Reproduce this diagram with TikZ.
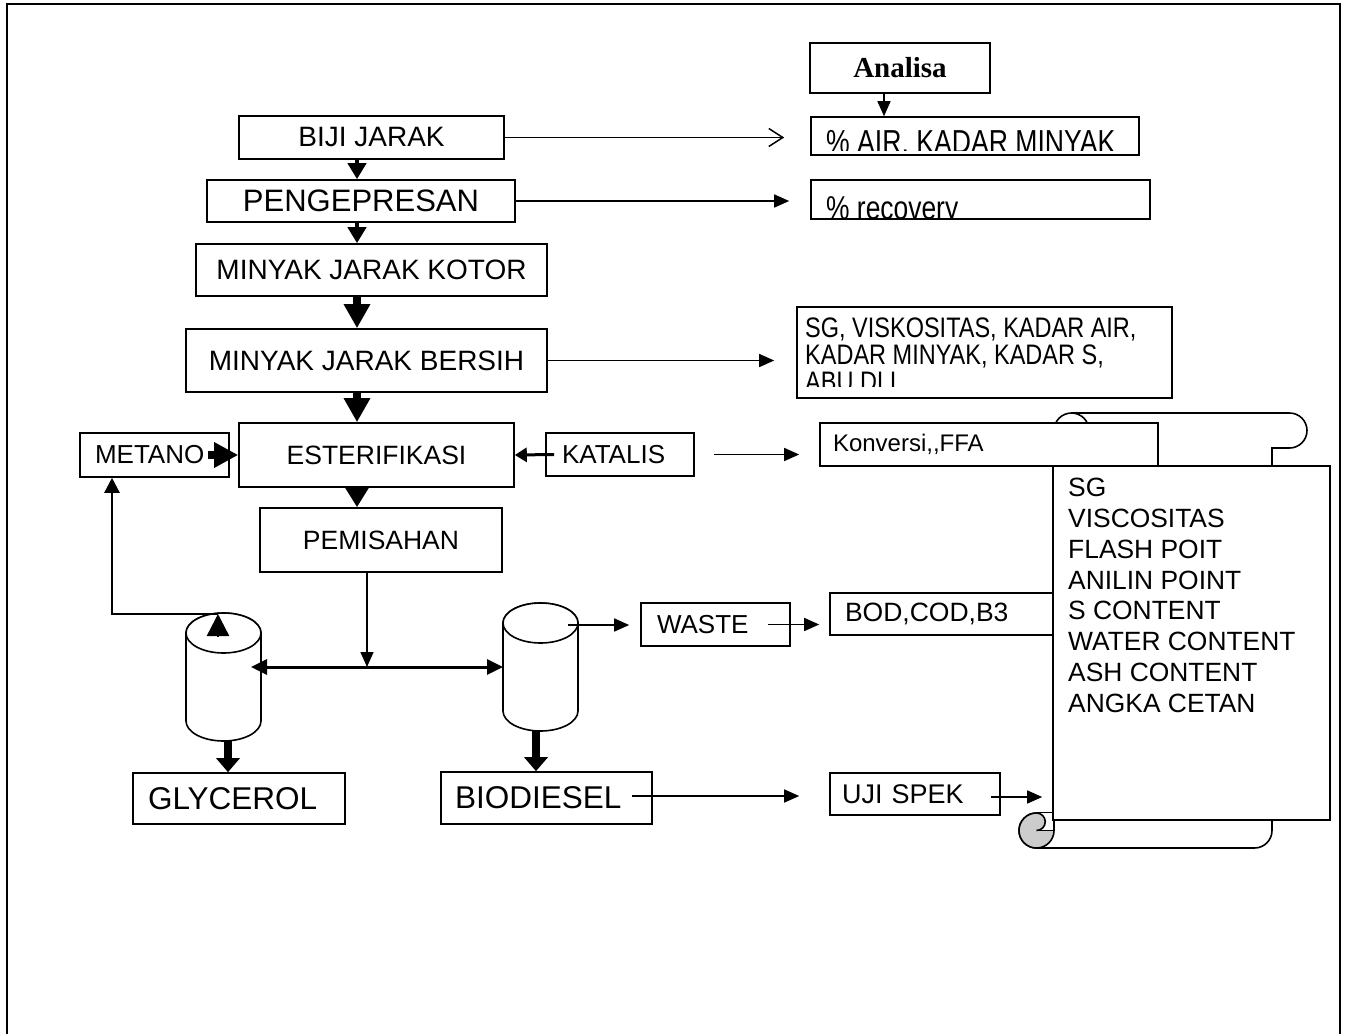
\documentclass[tikz,border=0pt]{standalone}
\usepackage{fontspec}
\setmainfont{Liberation Sans}
\newfontfamily\headserif{Liberation Serif}
\usetikzlibrary{arrows.meta}
\newcommand{\fsz}[2]{\fontsize{#1}{#2}\selectfont}

\begin{document}
\begin{tikzpicture}[x=1pt,y=-1pt,
  box/.style={draw, line width=1.6pt, fill=white, rectangle, inner sep=0pt},
  lbox/.style={box, align=left},
  flow/.style={line width=1.5pt, -{Triangle[length=15pt,width=13pt]}},
  barb/.style={line width=1.5pt, -{Straight Barb[length=14pt,width=18pt]}},
  midarrow/.style={line width=4pt, -{Triangle[length=16pt,width=18pt]}},
  bigarrow/.style={line width=8pt, -{Triangle[length=24pt,width=25pt]}},
  tankarrow/.style={line width=8pt, -{Triangle[length=14pt,width=23pt]}},
  pipe/.style={line width=3pt, -{Triangle[length=16pt,width=15pt]}},
  tank/.style={line width=1.6pt, fill=white},
  scrollline/.style={line width=1.6pt},
]
\useasboundingbox (0,0) rectangle (1347,1034);

% page frame, open at the bottom
\draw[line width=2.5pt] (7,1034) -- (7,4) -- (1340,4) -- (1340,1034);

% analysis header and result boxes
\node[box, minimum width=180pt, minimum height=50pt, font=\headserif\bfseries\fsz{29}{32}] (analisa) at (900,68) {Analisa};

\node[box, minimum width=328pt, minimum height=38pt] (air) at (975,136) {};
\begin{scope}
  \clip (813,119) rectangle (1137,150);
  \node[anchor=base west, inner sep=0pt, font=\fsz{26.6}{31}] (airtxt) at (826,153)
    {\scalebox{1}[1.25]{\% AIR. KADAR MINYAK}};
\end{scope}

\node[box, minimum width=339pt, minimum height=39pt] (rec) at (980.5,199.5) {};
\begin{scope}
  \clip (813,182) rectangle (1148,217);
  \node[anchor=base west, inner sep=0pt, font=\fsz{26.4}{31}] (rectxt) at (826,219)
    {\scalebox{1}[1.25]{\% recovery}};
\end{scope}

% main process column
\node[box, minimum width=265pt, minimum height=43pt, font=\fsz{28}{32}] (biji) at (371.5,137.5) {BIJI JARAK};
\node[box, minimum width=308pt, minimum height=42pt, font=\fsz{31}{36}] (peng) at (361,201) {PENGEPRESAN};
\node[box, minimum width=351pt, minimum height=52pt, font=\fsz{28}{32}] (kotor) at (371.5,270) {MINYAK JARAK KOTOR};
\node[box, minimum width=361pt, minimum height=63pt, font=\fsz{28}{32}] (bersih) at (366.5,360.5) {MINYAK JARAK BERSIH};

\node[box, minimum width=375pt, minimum height=91pt] (sgbox) at (984.5,352.5) {};
\begin{scope}
  \clip (799,309) rectangle (1170,386);
  \node[anchor=north west, inner sep=0pt, align=left, font=\fsz{23.5}{27}] (sgtxt) at (805,318)
    {\scalebox{1}[1.2]{SG, VISKOSITAS, KADAR AIR,}\\\scalebox{1}[1.2]{KADAR MINYAK, KADAR S,}\\\scalebox{1}[1.2]{ABU DLL}};
\end{scope}

\node[box, minimum width=275pt, minimum height=64pt, font=\fsz{26.5}{31}] (ester) at (376.5,455) {ESTERIFIKASI};
\node[lbox, minimum width=149pt, minimum height=44pt, text width=119pt, inner xsep=15pt, font=\fsz{26}{30}] (metano) at (154.5,455) {METANO};
\node[lbox, minimum width=148pt, minimum height=43pt, text width=116pt, inner xsep=16pt, font=\fsz{26}{30}] (katalis) at (620,454.5) {KATALIS};
\node[box, minimum width=242pt, minimum height=64pt, font=\fsz{26.5}{31}] (pemis) at (381,540) {PEMISAHAN};

\node[lbox, minimum width=212pt, minimum height=51pt, text width=182pt, inner xsep=15pt, font=\fsz{31.5}{36}] (glyc) at (239,798.5) {GLYCEROL};
\node[lbox, minimum width=211pt, minimum height=52pt, text width=183pt, inner xsep=14pt, font=\fsz{31.5}{36}] (bio) at (546.5,798) {BIODIESEL};
\node[lbox, minimum width=149pt, minimum height=43pt, text width=117pt, inner xsep=16pt, font=\fsz{26}{30}] (waste) at (715.5,624.5) {WASTE};
\node[lbox, minimum width=260pt, minimum height=42pt, text width=230pt, inner xsep=15pt, font=\fsz{26.5}{31}] (bod) at (960,614) {BOD,COD,B3};
\node[lbox, minimum width=170pt, minimum height=42pt, text width=146pt, inner xsep=12pt, font=\fsz{27}{31}] (uji) at (915,794) {UJI SPEK};

% settling tanks
\filldraw[tank] (186,633) -- (186,721) arc[start angle=180,end angle=0,x radius=37.5,y radius=20]
  -- (261,633) arc[start angle=0,end angle=-180,x radius=37.5,y radius=20] -- cycle;
\draw[tank] (223.5,633) ellipse[x radius=37.5,y radius=20];
\filldraw[tank] (503,623) -- (503,711) arc[start angle=180,end angle=0,x radius=37.5,y radius=20]
  -- (578,623) arc[start angle=0,end angle=-180,x radius=37.5,y radius=20] -- cycle;
\draw[tank] (540.5,623) ellipse[x radius=37.5,y radius=20];

% connector anchor points
\coordinate (spine) at (357,0);
\coordinate (split) at (367,667);
\coordinate (lcylin) at (251,667);
\coordinate (rcylin) at (503,667);
\coordinate (lcylvent) at (218,637);
\coordinate (lcyltop) at (218,614);
\coordinate (ret) at (112,614);
\coordinate (lcylbot) at (228,741);
\coordinate (rcylbot) at (536,731);
\coordinate (rcyltop) at (568,625);

% main flow
\draw[midarrow] (biji.south -| spine) -- (peng.north -| spine);
\draw[midarrow] (peng.south -| spine) -- (kotor.north -| spine);
\draw[bigarrow] (kotor.south -| spine) -- (bersih.north -| spine);
\draw[bigarrow] (bersih.south -| spine) -- (ester.north -| spine);
\draw[line width=6pt, -{Triangle[length=20pt,width=23pt]}] (ester.south -| spine) -- (pemis.north -| spine);
\draw[line width=8pt, -{Triangle[length=24pt,width=24pt]}] ([xshift=-22pt]metano.east) -- (ester.west);
\draw[line width=3pt, -{Triangle[length=12pt,width=14pt]}] ([xshift=9pt]katalis.west) -- (ester.east);

\draw[flow] (pemis.south -| split) -- (split);
\draw[pipe] (split) -- (lcylin);
\draw[pipe] (split) -- (rcylin);
\draw[line width=2.5pt, -{Triangle[length=22pt,width=22pt]}] (lcylvent) -- (lcyltop);
\draw[line width=2.5pt, -{Triangle[length=15pt,width=15pt]}] (lcyltop) -- (ret) -- (ret |- metano.south);
\draw[tankarrow] (lcylbot) -- (lcylbot |- glyc.north);
\draw[tankarrow] (rcylbot) -- (rcylbot |- bio.north);

% analysis links
\draw[flow] ([xshift=-16pt]analisa.south) -- ([xshift=-16pt]analisa.south |- air.north);
\draw[barb, shorten >=26pt] (biji.east) -- (biji.east -| air.west);
\draw[flow, shorten >=21pt] (peng.east) -- (peng.east -| rec.west);
\draw[flow, shorten >=22pt] (bersih.east) -- (bersih.east -| sgbox.west);
\draw[flow, shorten >=11pt] (rcyltop) -- (rcyltop -| waste.west);
\draw[flow, shorten >=10pt] ([xshift=-23pt]waste.east) -- (waste.east -| bod.west);
\draw[flow, shorten >=30pt] ([xshift=-21pt,yshift=2pt]bio.east) -- ([yshift=2pt]bio.east -| uji.west);

% scroll: body with top and bottom rolls
\filldraw[scrollline, fill=white] (1054,830.5) -- (1054,430.5) arc[start angle=180,end angle=270,radius=17.5]
  -- (1289.5,413) arc[start angle=-90,end angle=90,radius=17.5] -- (1272,448) -- (1272,830.5)
  arc[start angle=0,end angle=90,radius=17.5] -- (1036.5,848) arc[start angle=90,end angle=270,radius=17.5]
  -- (1054,813);
\draw[scrollline] (1071.5,413) arc[start angle=-90,end angle=90,radius=17.5]
  arc[start angle=90,end angle=270,radius=8.75] -- (1089,430.5);
% bottom curl
\fill[gray!40] (1036.5,830.5) circle[radius=17.5];
\fill[white] (1036.5,813) rectangle (1054,830.5);
\filldraw[scrollline, fill=gray!40] (1036.5,813) arc[start angle=-90,end angle=90,radius=8.75];
\draw[scrollline] (1036.5,813) arc[start angle=270,end angle=90,radius=17.5]
  arc[start angle=90,end angle=0,radius=17.5] -- (1054,813);
\draw[scrollline] (1036.5,830.5) -- (1054,830.5);

% specification list
\node[box, minimum width=277pt, minimum height=354pt] (spec) at (1191.5,643) {};
\node[anchor=north west, inner sep=0pt, align=left, font=\fsz{26.4}{30.8}] (speclist) at (1068,478)
  {SG\\VISCOSITAS\\FLASH POIT\\ANILIN POINT\\S CONTENT\\WATER CONTENT\\ASH CONTENT\\ANGKA CETAN};
\draw[flow, shorten >=10pt] ([xshift=-10pt,yshift=-3pt]uji.east) -- ([yshift=-3pt]uji.east -| spec.west);

% conversion result box on top of the scroll
\node[lbox, minimum width=338pt, minimum height=43pt, text width=312pt, inner xsep=13pt, font=\fsz{24}{28}] (konv) at (989,444.5) {Konversi,{},FFA};
\draw[flow, shorten <=19pt, shorten >=20pt] (katalis.east) -- (katalis.east -| konv.west);
\end{tikzpicture}
\end{document}
